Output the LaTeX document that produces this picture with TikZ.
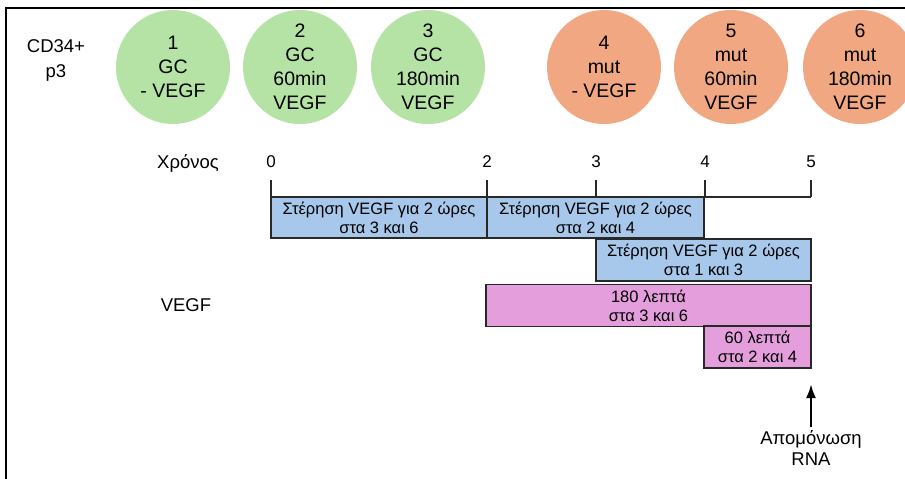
\documentclass[tikz,border=0pt]{standalone}
\usepackage{fontspec}
\setmainfont{Liberation Sans}
\usetikzlibrary{arrows.meta}
\definecolor{gcgreen}{RGB}{181,227,165}
\definecolor{mutorange}{RGB}{241,168,130}
\definecolor{boxblue}{RGB}{167,200,234}
\definecolor{boxpink}{RGB}{228,158,220}
\definecolor{edgegray}{RGB}{40,40,40}
\tikzset{
  sample/.style={circle, minimum size=114pt, inner sep=0pt, align=center,
    font=\fontsize{19.5}{24}\selectfont},
  gc/.style={sample, fill=gcgreen},
  mut/.style={sample, fill=mutorange},
  period/.style={draw=edgegray, line width=1.6pt, inner sep=0pt, align=center,
    font=\fontsize{16.5}{19}\selectfont},
  starve/.style={period, fill=boxblue},
  vegfbox/.style={period, fill=boxpink},
  lbl/.style={font=\fontsize{18.5}{25}\selectfont, align=center},
  ticklbl/.style={font=\fontsize{17}{18}\selectfont},
  axis/.style={line width=1.6pt, draw=edgegray}
}
\begin{document}
\begin{tikzpicture}[x=1pt,y=-1pt]
\useasboundingbox (0,0) rectangle (905,479);
\clip (0,0) rectangle (905,479);
\draw[line width=2.5pt] (6,480) -- (6,8) -- (906,8);
% labels
\node[lbl] (cd) at (56,60) {CD34+\\p3};
% circles
\node[gc] (c1) at (173,67) {1\\GC\\- VEGF};
\node[gc] (c2) at (300,67) {2\\GC\\60min\\VEGF};
\node[gc] (c3) at (428,67) {3\\GC\\180min\\VEGF};
\node[mut] (c4) at (604,67) {4\\mut\\- VEGF};
\node[mut] (c5) at (731,67) {5\\mut\\60min\\VEGF};
\node[mut] (c6) at (860,67) {6\\mut\\180min\\VEGF};
% time axis
\node[lbl] (xr) at (188,163) {Χρόνος};
\node[ticklbl] (l0) at (271,162) {0};
\node[ticklbl] (l2) at (487,162) {2};
\node[ticklbl] (l3) at (596,162) {3};
\node[ticklbl] (l4) at (705,162) {4};
\node[ticklbl] (l5) at (811,162) {5};
\coordinate (t0) at (271,180); \coordinate (b0) at (271,197);
\coordinate (t2) at (487,180); \coordinate (b2) at (487,197);
\coordinate (t3) at (596,180); \coordinate (b3) at (596,197);
\coordinate (t4) at (705,180); \coordinate (b4) at (705,197);
\coordinate (t5) at (811,180); \coordinate (b5) at (811,197);
\draw[axis] (t0) -- (b0);
\draw[axis] (t2) -- (b2);
\draw[axis] (t3) -- (b3);
\draw[axis] (t4) -- (b4);
\draw[axis] (t5) -- (b5);
\draw[axis] (b0) -- (b5);
% starvation boxes
\node[starve, minimum width=216pt, minimum height=41pt] (sa) at (379,217.5) {Στέρηση VEGF για 2 ώρες\\στα 3 και 6};
\node[starve, minimum width=217pt, minimum height=41pt] (sb) at (595.5,217.5) {Στέρηση VEGF για 2 ώρες\\στα 2 και 4};
\node[starve, minimum width=215pt, minimum height=42pt] (sc) at (703.5,260) {Στέρηση VEGF για 2 ώρες\\στα 1 και 3};
% VEGF
\node[lbl] (vg) at (186,305) {VEGF};
\node[vegfbox, minimum width=325pt, minimum height=42pt] (vd) at (648.5,305.5) {180 λεπτά\\στα 3 και 6};
\node[vegfbox, minimum width=107pt, minimum height=42pt] (ve) at (757.5,347) {60 λεπτά\\στα 2 και 4};
% RNA isolation
\node[lbl, font=\fontsize{18.5}{21}\selectfont] (iso) at (811,448) {Απομόνωση\\RNA};
\coordinate (tip) at (811,384);
\draw[line width=2.5pt, -{Latex[length=14pt,width=10pt]}] (iso.north) -- (tip);
\end{tikzpicture}
\end{document}
